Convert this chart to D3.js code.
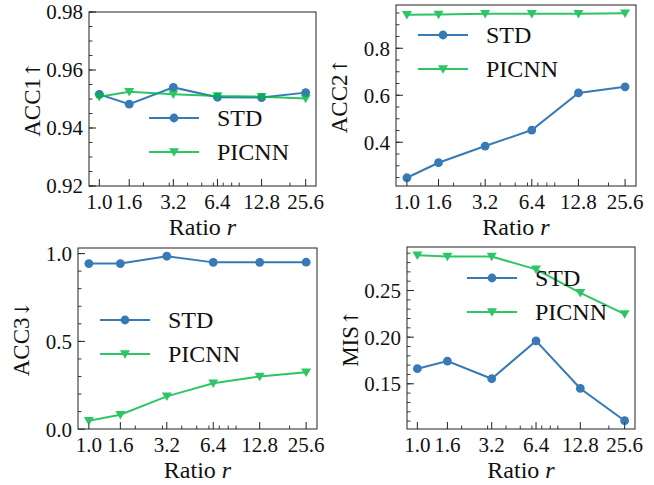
<!DOCTYPE html>
<html>
<head>
<meta charset="utf-8">
<script src="https://cdn.jsdelivr.net/npm/d3@7"></script>
<style>
  body { margin: 0; background: #fff; }
</style>
</head>
<body>
<svg id="chart" width="654" height="485" font-family="'Liberation Serif', 'Times New Roman', 'DejaVu Serif', serif"></svg>
<script>
// data
var ratios = [1.0, 1.6, 3.2, 6.4, 12.8, 25.6];
var ratioLabels = ["1.0", "1.6", "3.2", "6.4", "12.8", "25.6"];
var minorX = [2, 3, 4, 5, 6, 7, 8, 9, 20];

var acc1Std   = [0.9516, 0.9482, 0.9540, 0.9506, 0.9505, 0.9522];
var acc1Picnn = [0.9508, 0.9525, 0.9516, 0.9510, 0.9508, 0.9502];
var acc2Std   = [0.249, 0.313, 0.384, 0.452, 0.610, 0.636];
var acc2Picnn = [0.942, 0.944, 0.947, 0.947, 0.947, 0.949];
var acc3Std   = [0.943, 0.943, 0.985, 0.950, 0.950, 0.951];
var acc3Picnn = [0.048, 0.082, 0.187, 0.262, 0.300, 0.324];
var misStd    = [0.1662, 0.1744, 0.1554, 0.1960, 0.1450, 0.1104];
var misPicnn  = [0.2878, 0.2864, 0.2864, 0.2727, 0.2475, 0.2248];

var seriesNames = ["STD", "PICNN"];
var colors = ["#0C5DA5", "#00B945"];

var panels = [
  { box: [89, 12, 316, 186], label: "ACC1\u2191", std: acc1Std, picnn: acc1Picnn,
    fixed: [0.92, 0.98], ticks: [0.92, 0.94, 0.96, 0.98], fmt: ".2f", minor: 0.005,
    legend: [149, 118] },
  { box: [396, 5, 636, 186], label: "ACC2\u2191", std: acc2Std, picnn: acc2Picnn,
    ticks: [0.4, 0.6, 0.8], fmt: ".1f", minor: 0.05, legend: [418, 35] },
  { box: [78, 248, 317, 429], label: "ACC3\u2193", std: acc3Std, picnn: acc3Picnn,
    ticks: [0.0, 0.5, 1.0], fmt: ".1f", minor: 0.1, legend: [100, 320] },
  { box: [407, 247, 635, 429], label: "MIS\u2191", std: misStd, picnn: misPicnn,
    ticks: [0.15, 0.20, 0.25], fmt: ".2f", minor: 0.01, legend: [467, 278] }
];

var svg = d3.select("#chart");
var ink = "#111";

// log-x with 5% margins like matplotlib
var lx0 = Math.log2(ratios[0]), lx1 = Math.log2(ratios[ratios.length - 1]);
var xm = (lx1 - lx0) * 0.05;
var xDomain = [Math.pow(2, lx0 - xm), Math.pow(2, lx1 + xm)];

function drawMarker(g, kind, cx, cy, color) {
  if (kind === 0) {
    g.append("circle").attr("cx", cx).attr("cy", cy).attr("r", 4.4)
      .attr("fill", color);
  } else {
    var s = 5;
    g.append("path")
      .attr("d", "M" + (cx - s) + "," + (cy - s * 0.75) + "L" + (cx + s) + "," + (cy - s * 0.75) +
                 "L" + cx + "," + (cy + s * 0.95) + "Z")
      .attr("fill", color);
  }
}

panels.forEach(function (p) {
  var x0 = p.box[0], y0 = p.box[1], x1 = p.box[2], y1 = p.box[3];
  var yDomain = p.fixed;
  if (!yDomain) {
    var all = p.std.concat(p.picnn);
    var lo = d3.min(all), hi = d3.max(all), m = (hi - lo) * 0.05;
    yDomain = [lo - m, hi + m];
  }
  var x = d3.scaleLog().base(2).domain(xDomain).range([x0, x1]);
  var y = d3.scaleLinear().domain(yDomain).range([y1, y0]);
  var g = svg.append("g");

  // minor y ticks
  var minorY = d3.range(Math.ceil(yDomain[0] / p.minor - 1e-6), Math.floor(yDomain[1] / p.minor + 1e-6) + 1)
    .map(function (k) { return k * p.minor; });
  g.selectAll(".ymin").data(minorY).enter().append("line")
    .attr("x1", x0).attr("x2", x0 + 3.5)
    .attr("y1", function (d) { return y(d); }).attr("y2", function (d) { return y(d); })
    .attr("stroke", "#222").attr("stroke-width", 0.9);
  g.selectAll(".ymaj").data(p.ticks).enter().append("line")
    .attr("x1", x0).attr("x2", x0 + 7)
    .attr("y1", function (d) { return y(d); }).attr("y2", function (d) { return y(d); })
    .attr("stroke", "#222").attr("stroke-width", 1);
  g.selectAll(".ylab").data(p.ticks).enter().append("text")
    .attr("x", x0 - 6).attr("y", function (d) { return y(d); })
    .attr("dy", "0.35em").attr("text-anchor", "end").attr("font-size", 21).attr("fill", ink)
    .text(function (d) { return d3.format(p.fmt)(d); });

  // x ticks
  g.selectAll(".xmin").data(minorX).enter().append("line")
    .attr("x1", function (d) { return x(d); }).attr("x2", function (d) { return x(d); })
    .attr("y1", y1).attr("y2", y1 - 3.5)
    .attr("stroke", "#222").attr("stroke-width", 0.9);
  g.selectAll(".xmaj").data(ratios).enter().append("line")
    .attr("x1", function (d) { return x(d); }).attr("x2", function (d) { return x(d); })
    .attr("y1", y1).attr("y2", y1 - 7)
    .attr("stroke", "#222").attr("stroke-width", 1);
  g.selectAll(".xlab").data(ratios).enter().append("text")
    .attr("x", function (d) { return x(d); }).attr("y", y1 + 23)
    .attr("text-anchor", "middle").attr("font-size", 21).attr("fill", ink)
    .text(function (d, i) { return ratioLabels[i]; });

  // frame
  g.append("rect").attr("x", x0).attr("y", y0).attr("width", x1 - x0).attr("height", y1 - y0)
    .attr("fill", "none").attr("stroke", "#222").attr("stroke-width", 1);

  // axis labels
  var xl = g.append("text").attr("x", (x0 + x1) / 2).attr("y", y1 + 49)
    .attr("text-anchor", "middle").attr("font-size", 24).attr("fill", ink);
  xl.append("tspan").text("Ratio ");
  xl.append("tspan").attr("font-style", "italic").text("r");
  var yl = g.append("text")
    .attr("transform", "translate(" + (x0 - 57) + "," + ((y0 + y1) / 2) + ") rotate(-90)")
    .attr("text-anchor", "middle").attr("dy", "0.35em").attr("font-size", 23).attr("fill", ink);
  yl.append("tspan").text(p.label.slice(0, -1));
  yl.append("tspan").attr("font-family", "'DejaVu Serif', serif").attr("font-size", 20)
    .text(p.label.slice(-1));

  // series
  var line = d3.line().x(function (d, i) { return x(ratios[i]); }).y(function (d) { return y(d); });
  [p.std, p.picnn].forEach(function (vals, k) {
    var sg = g.append("g").attr("opacity", 0.82);
    sg.append("path").datum(vals).attr("d", line).attr("fill", "none")
      .attr("stroke", colors[k]).attr("stroke-width", 2);
    vals.forEach(function (v, i) { drawMarker(sg, k, x(ratios[i]), y(v), colors[k]); });
  });

  // legend
  seriesNames.forEach(function (name, k) {
    var lx = p.legend[0], ly = p.legend[1] + k * 34;
    var lg = g.append("g").attr("opacity", 0.82);
    lg.append("line").attr("x1", lx).attr("x2", lx + 50).attr("y1", ly).attr("y2", ly)
      .attr("stroke", colors[k]).attr("stroke-width", 2);
    drawMarker(lg, k, lx + 25, ly, colors[k]);
    g.append("text").attr("x", lx + 68).attr("y", ly).attr("dy", "0.35em")
      .attr("font-size", 24).attr("fill", ink).text(name);
  });
});
</script>
</body>
</html>
